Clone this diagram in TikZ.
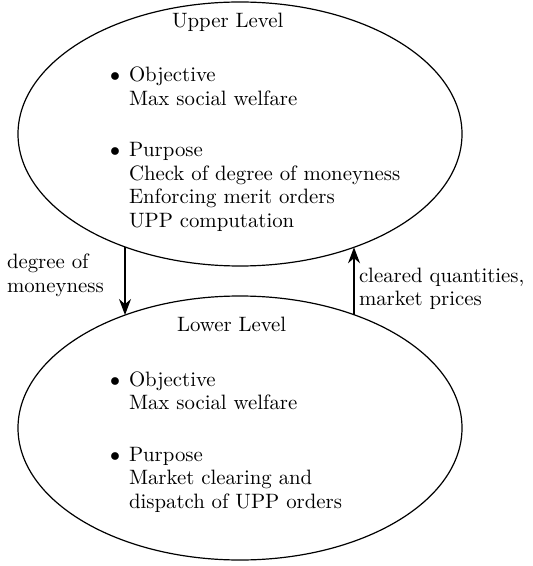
\documentclass[tikz,border=0pt]{standalone}
\usepackage{fontspec}
\usetikzlibrary{shapes.geometric,arrows.meta}
\begin{document}
\begin{tikzpicture}[x=0.5pt,y=-0.5pt,
  level/.style={draw,ellipse,line width=0.6pt,minimum width=222pt,minimum height=132pt,inner sep=0pt},
  txt/.style={anchor=base west,inner sep=0pt,outer sep=0pt,font=\fontsize{10.4}{12.5}\selectfont},
  flow/.style={line width=0.6pt,-{Stealth[length=8pt,width=6pt,inset=2.6pt]}}]
\useasboundingbox (0,0) rectangle (533,566);
\node[level] (U) at (240,134) {};
\node[level] (L) at (240,428) {};
% upper text
\node[txt] (ut) at (172,28) {Upper Level};
\node[txt] (ub1) at (110,82) {$\bullet$};
\node[txt] (uo1) at (129,82) {Objective};
\node[txt] (uo2) at (129,105.5) {Max social welfare};
\node[txt] (ub2) at (110,157) {$\bullet$};
\node[txt] (up1) at (129,157) {Purpose};
\node[txt] (up2) at (129,180.5) {Check of degree of moneyness};
\node[txt] (up3) at (129,204) {Enforcing merit orders};
\node[txt] (up4) at (129,227.5) {UPP computation};
% lower text
\node[txt] (lt) at (177,331) {Lower Level};
\node[txt] (lb1) at (110,386) {$\bullet$};
\node[txt] (lo1) at (129,386) {Objective};
\node[txt] (lo2) at (129,409.5) {Max social welfare};
\node[txt] (lb2) at (110,461) {$\bullet$};
\node[txt] (lp1) at (129,461) {Purpose};
\node[txt] (lp2) at (129,484.5) {Market clearing and};
\node[txt] (lp3) at (129,508) {dispatch of UPP orders};
% labels
\node[txt] (ll1) at (7,269) {degree of};
\node[txt] (ll2) at (7,292.5) {moneyness};
\node[txt] (rl1) at (359,282) {cleared quantities,};
\node[txt] (rl2) at (359,305.5) {market prices};
% arrow end points on the ellipse borders
\coordinate (dnS) at (125,247);
\coordinate (dnE) at (125,315);
\coordinate (upS) at (354,314.7);
\coordinate (upE) at (354,247.3);
\draw[flow] (dnS) -- (dnE);
\draw[flow] (upS) -- (upE);
\end{tikzpicture}
\end{document}
